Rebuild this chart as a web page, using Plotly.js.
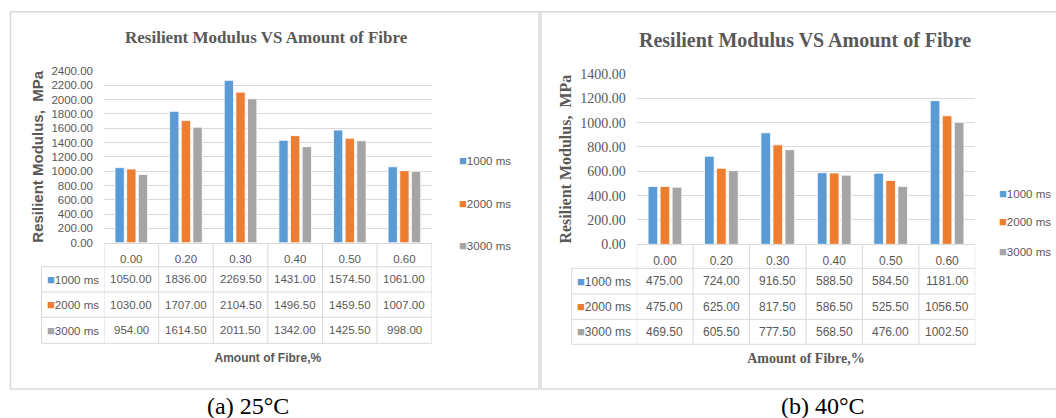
<!DOCTYPE html>
<html><head><meta charset="utf-8">
<script src="https://cdn.plot.ly/plotly-3.0.1.min.js"></script>
<style>html,body{margin:0;padding:0;background:#fff}#chart{width:1056px;height:418px}</style>
</head><body><div id="chart"></div>
<script>
// ---- data ----
const categories = ['0.00', '0.20', '0.30', '0.40', '0.50', '0.60'];
const seriesNames = ['1000 ms', '2000 ms', '3000 ms'];
const seriesColors = ['#5b9bd5', '#ed7d31', '#a5a5a5'];
const mr25_1000 = [1050.00, 1836.00, 2269.50, 1431.00, 1574.50, 1061.00];
const mr25_2000 = [1030.00, 1707.00, 2104.50, 1496.50, 1459.50, 1007.00];
const mr25_3000 = [954.00, 1614.50, 2011.50, 1342.00, 1425.50, 998.00];
const mr40_1000 = [475.00, 724.00, 916.50, 588.50, 584.50, 1181.00];
const mr40_2000 = [475.00, 625.00, 817.50, 586.50, 525.50, 1056.50];
const mr40_3000 = [469.50, 605.50, 777.50, 568.50, 476.00, 1002.50];
const chartTitle = 'Resilient Modulus VS Amount of Fibre';
const yTitle = 'Resilient Modulus,  MPa';
const xTitle = 'Amount of Fibre,%';
const captions = ['(a) 25°C', '(b) 40°C'];

// ---- layout helpers ----
const W = 1056, H = 418;
const px = x => x / W, py = y => 1 - y / H;
const GRID = '#d9d9d9', TXT = '#595959';
const SANS = 'Liberation Sans, Arial, sans-serif';
const SERIF = 'Liberation Serif, Times New Roman, serif';

const panels = [
  {xa: 'x', ya: 'y', series: [mr25_1000, mr25_2000, mr25_3000], plotL: 104, plotR: 431.7, plotT: 71, plotB: 242.7,
   rows: [266.7, 292, 317.3, 343.3], labelL: 41.5, ymax: 2400,
   tickFont: {family: SANS, size: 11.5, color: TXT}, cellFont: {family: SANS, size: 11.5, color: TXT},
   yTitleFont: {family: SANS, size: 15, color: TXT}, xTitleFont: {family: SANS, size: 12, color: TXT},
   titleFont: {family: SERIF, size: 17, color: TXT}, titleX: 266, titleY: 37.5, xStandoff: 90,
   legX: 457, legY: [160, 203, 246], capX: 248},
  {xa: 'x2', ya: 'y2', series: [mr40_1000, mr40_2000, mr40_3000], plotL: 636.7, plotR: 975.3, plotT: 74, plotB: 244.3,
   rows: [268.3, 294, 319.3, 344.3], labelL: 571.7, ymax: 1400,
   tickFont: {family: SERIF, size: 14, color: TXT}, cellFont: {family: SANS, size: 12, color: TXT},
   yTitleFont: {family: SERIF, size: 16, color: TXT}, xTitleFont: {family: SERIF, size: 14, color: TXT},
   titleFont: {family: SERIF, size: 20, color: TXT}, titleX: 805, titleY: 40, xStandoff: 86,
   legX: 997, legY: [193, 221.5, 251], capX: 823}
];

const traces = [];
const shapes = [];
const annotations = [];
const layout = {
  width: W, height: H, margin: {l: 0, r: 0, t: 0, b: 0},
  paper_bgcolor: '#ffffff', plot_bgcolor: '#ffffff',
  showlegend: false, barmode: 'group', bargap: 0.36, bargroupgap: 0.2,
  font: {family: SANS, color: TXT}
};

// outer frames
shapes.push({type: 'rect', xref: 'paper', yref: 'paper', x0: px(10.5), x1: px(539), y0: py(389), y1: py(11.7),
  line: {color: GRID, width: 1.5}, layer: 'below'});
shapes.push({type: 'rect', xref: 'paper', yref: 'paper', x0: px(541), x1: px(1062), y0: py(389), y1: py(11.7),
  line: {color: GRID, width: 1.5}, layer: 'below'});

panels.forEach((p, pi) => {
  const xk = pi === 0 ? 'xaxis' : 'xaxis2';
  const yk = pi === 0 ? 'yaxis' : 'yaxis2';
  p.series.forEach((vals, si) => {
    traces.push({type: 'bar', x: categories, y: vals, name: seriesNames[si], xaxis: p.xa, yaxis: p.ya,
      marker: {color: seriesColors[si], line: {color: '#ffffff', width: 0.8}},
      hoverinfo: 'x+y+name'});
  });
  layout[xk] = {
    domain: [px(p.plotL), px(p.plotR)], anchor: p.ya, type: 'category', range: [-0.5, 5.5],
    showgrid: false, zeroline: false, showline: true, linecolor: GRID, linewidth: 1,
    ticks: '', tickfont: p.cellFont, ticklabelstandoff: 5,
    title: {text: '<b>' + xTitle + '</b>', font: p.xTitleFont, standoff: p.xStandoff}
  };
  layout[yk] = {
    domain: [py(p.plotB), py(p.plotT)], anchor: p.xa, range: [0, p.ymax], dtick: 200, tickformat: '.2f',
    showgrid: true, gridcolor: GRID, gridwidth: 1, zeroline: false, showline: false,
    ticks: '', tickfont: p.tickFont, ticklabelstandoff: 10,
    title: {text: '<b>' + yTitle + '</b>', font: p.yTitleFont, standoff: 4}
  };

  // table grid
  const bottom = p.rows[p.rows.length - 1];
  for (let i = 0; i <= categories.length; i++) {
    shapes.push({type: 'line', xref: p.xa, yref: 'paper', x0: i - 0.5, x1: i - 0.5, y0: py(p.plotB), y1: py(bottom),
      line: {color: GRID, width: 1}});
  }
  shapes.push({type: 'line', xref: 'paper', yref: 'paper', x0: px(p.labelL), x1: px(p.labelL), y0: py(p.rows[0]), y1: py(bottom),
    line: {color: GRID, width: 1}});
  p.rows.forEach(r => {
    shapes.push({type: 'line', xref: 'paper', yref: 'paper', x0: px(p.labelL), x1: px(p.plotR), y0: py(r), y1: py(r),
      line: {color: GRID, width: 1}});
  });

  // table cells
  p.series.forEach((vals, si) => {
    const yc = py((p.rows[si] + p.rows[si + 1]) / 2);
    annotations.push({xref: 'paper', yref: 'paper', x: px((p.labelL + p.plotL) / 2), y: yc, xanchor: 'center', yanchor: 'middle',
      showarrow: false, font: p.cellFont,
      text: '<span style="color:' + seriesColors[si] + ';font-size:13px">■</span>' + seriesNames[si]});
    vals.forEach((v, ci) => {
      annotations.push({xref: p.xa, yref: 'paper', x: ci, y: yc, xanchor: 'center', yanchor: 'middle',
        showarrow: false, font: p.cellFont, text: v.toFixed(2)});
    });
    // legend entries
    annotations.push({xref: 'paper', yref: 'paper', x: px(p.legX), y: py(p.legY[si]), xanchor: 'left', yanchor: 'middle',
      showarrow: false, font: {family: SANS, size: 11.5, color: TXT},
      text: '<span style="color:' + seriesColors[si] + ';font-size:13px">■</span>' + seriesNames[si]});
  });

  // chart title
  annotations.push({xref: 'paper', yref: 'paper', x: px(p.titleX), y: py(p.titleY), xanchor: 'center', yanchor: 'middle',
    showarrow: false, font: p.titleFont, text: '<b>' + chartTitle + '</b>'});
  // caption
  annotations.push({xref: 'paper', yref: 'paper', x: px(p.capX), y: py(406), xanchor: 'center', yanchor: 'middle',
    showarrow: false, font: {family: SERIF, size: 24, color: '#000000'}, text: captions[pi]});
});

layout.shapes = shapes;
layout.annotations = annotations;
Plotly.newPlot('chart', traces, layout, {staticPlot: true, displayModeBar: false});
</script>
</body></html>
